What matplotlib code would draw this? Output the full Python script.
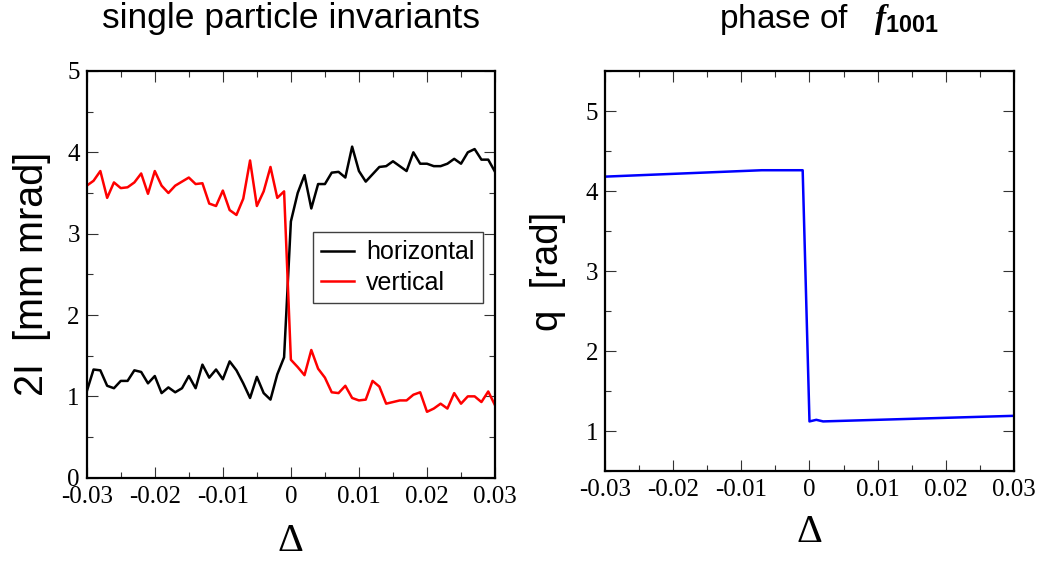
import numpy as np
import matplotlib
matplotlib.use('Agg')
import matplotlib.pyplot as plt
from matplotlib.ticker import MultipleLocator, FuncFormatter

# detuning scan, step 0.001
delta = np.linspace(-0.03, 0.03, 61)

horizontal = [1.06, 1.33, 1.32, 1.13, 1.10, 1.19, 1.19, 1.32, 1.30, 1.16,
              1.25, 1.04, 1.11, 1.05, 1.10, 1.25, 1.10, 1.39, 1.23, 1.33,
              1.21, 1.43, 1.32, 1.16, 0.98, 1.24, 1.04, 0.96, 1.27, 1.48,
              3.15, 3.50, 3.72, 3.31, 3.61, 3.61, 3.75, 3.76, 3.69, 4.07,
              3.77, 3.64, 3.73, 3.82, 3.83, 3.89, 3.83, 3.77, 4.00, 3.86,
              3.86, 3.83, 3.83, 3.86, 3.92, 3.86, 4.00, 4.04, 3.91, 3.91,
              3.76]
vertical = [3.59, 3.65, 3.77, 3.44, 3.63, 3.56, 3.57, 3.63, 3.74, 3.49,
            3.77, 3.59, 3.50, 3.59, 3.64, 3.69, 3.61, 3.62, 3.37, 3.34,
            3.53, 3.29, 3.23, 3.43, 3.90, 3.34, 3.52, 3.82, 3.44, 3.52,
            1.45, 1.36, 1.26, 1.57, 1.34, 1.23, 1.05, 1.04, 1.13, 0.98,
            0.95, 0.96, 1.19, 1.12, 0.91, 0.93, 0.95, 0.95, 1.02, 1.05,
            0.81, 0.85, 0.91, 0.85, 1.04, 0.91, 1.00, 1.00, 0.93, 1.06,
            0.89]

# phase of f1001
phase_delta = [-0.03, -0.007, -0.004, -0.001, 0.0, 0.001, 0.002, 0.03]
phase = [4.18, 4.26, 4.26, 4.26, 1.12, 1.14, 1.12, 1.19]

plt.rcParams['font.family'] = 'Liberation Sans'
plt.rcParams['mathtext.fontset'] = 'custom'
plt.rcParams['mathtext.it'] = 'Liberation Serif:italic:bold'
plt.rcParams['mathtext.bf'] = 'Liberation Sans:bold'
plt.rcParams['mathtext.rm'] = 'Liberation Sans'

SERIF = 'Liberation Serif'


def xfmt(v, pos):
    if abs(v) < 1e-9:
        return '0'
    return '%g' % v


def style_axes(ax):
    for s in ax.spines.values():
        s.set_linewidth(1.6)
    ax.tick_params(which='both', direction='in', top=True, right=True,
                   width=0.8, color='0.2')
    ax.tick_params(which='major', length=8)
    ax.tick_params(which='minor', length=4.5)
    ax.tick_params(axis='x', pad=6)
    ax.tick_params(axis='y', pad=5)
    ax.xaxis.set_major_locator(MultipleLocator(0.01))
    ax.xaxis.set_minor_locator(MultipleLocator(0.005))
    ax.yaxis.set_major_locator(MultipleLocator(1))
    ax.yaxis.set_minor_locator(MultipleLocator(0.5))
    ax.xaxis.set_major_formatter(FuncFormatter(xfmt))
    ax.yaxis.set_major_formatter(FuncFormatter(lambda v, p: '%d' % round(v)))
    for lab in ax.get_xticklabels() + ax.get_yticklabels():
        lab.set_fontfamily(SERIF)
        lab.set_fontsize(18)
    ax.set_xlim(-0.03, 0.03)


fig = plt.figure(figsize=(10.4, 5.62), dpi=100)
ax1 = fig.add_axes([0.0834, 0.150, 0.3926, 0.7237])
ax2 = fig.add_axes([0.5817, 0.1619, 0.3933, 0.7117])

# left panel
ax1.plot(delta, horizontal, color='black', lw=1.8, label='horizontal')
ax1.plot(delta, vertical, color='red', lw=1.8, label='vertical')
ax1.set_ylim(0, 5)
style_axes(ax1)
ax1.set_title('single particle invariants', fontsize=25.5, pad=31)
ax1.set_xlabel('Δ', fontfamily=SERIF, fontsize=29, labelpad=11)
ax1.set_ylabel('2I  [mm mrad]', fontsize=28.5, labelpad=12)
leg = ax1.legend(loc='upper left', bbox_to_anchor=(0.553, 0.605),
                 borderaxespad=0, fontsize=18, handlelength=1.3,
                 handletextpad=0.5, labelspacing=0.25, borderpad=0.35,
                 fancybox=False, framealpha=1)
leg.get_frame().set_edgecolor('0.25')
leg.get_frame().set_linewidth(1.0)

# right panel
ax2.plot(phase_delta, phase, color='#0000ff', lw=1.8)
ax2.set_ylim(0.5, 5.5)
style_axes(ax2)
ax2.set_title(r'phase of   $\mathit{f}_{\mathbf{1001}}$', fontsize=24,
              pad=31, x=0.548)
ax2.set_xlabel('Δ', fontfamily=SERIF, fontsize=29, labelpad=9)
ax2.set_ylabel('q  [rad]', fontsize=27.5, labelpad=14)

fig.savefig('out.png', dpi=100)
